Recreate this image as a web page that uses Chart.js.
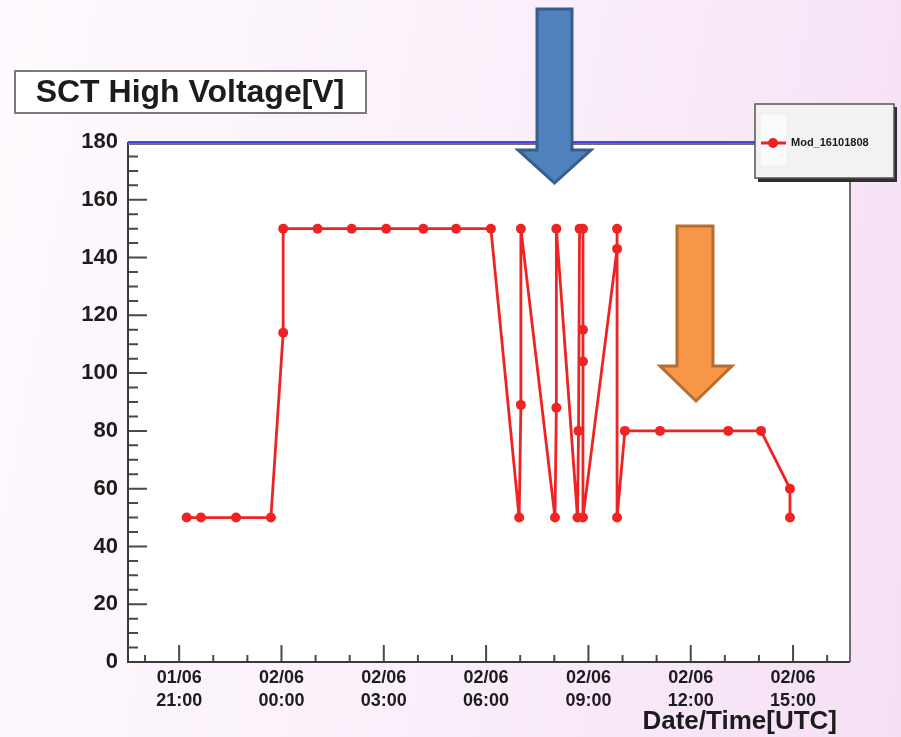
<!DOCTYPE html>
<html>
<head>
<meta charset="utf-8">
<title>SCT High Voltage</title>
<script src="https://cdn.jsdelivr.net/npm/chart.js"></script>
<style>
    html, body { margin: 0; padding: 0; }
    body {
        width: 901px; height: 737px; overflow: hidden;
        background: linear-gradient(100deg, #fefafe 0%, #fbf1fb 45%, #f7e6f7 80%, #f5e0f5 100%);
    }
    #graficoHV { display: block; }
</style>
</head>
<body>
<canvas id="graficoHV" width="901" height="737"></canvas>
<script>
// hours counted from 01/06 00:00 UTC
var tiempoHoras = [21.22, 21.64, 22.67, 23.69, 24.05, 24.05, 25.06, 26.06, 27.07, 28.16,
                   29.12, 30.14, 30.97, 31.02, 31.02, 32.02, 32.06, 32.06, 32.68, 32.71,
                   32.74, 32.84, 32.84, 32.84, 32.84, 33.84, 33.84, 33.84, 34.07, 35.10,
                   37.10, 38.06, 38.91, 38.91];
var voltaje = [50, 50, 50, 50, 114, 150, 150, 150, 150, 150,
               150, 150, 50, 89, 150, 50, 88, 150, 50, 80,
               150, 150, 115, 104, 50, 143, 150, 50, 80, 80,
               80, 80, 60, 50];
var serieNombre = 'Mod_16101808';
var tituloGrafico = 'SCT High Voltage[V]';
var tituloEjeX = 'Date/Time[UTC]';

var horasMayores = [21, 24, 27, 30, 33, 36, 39];
var horasMenores = [20, 22, 23, 25, 26, 28, 29, 31, 32, 34, 35, 37, 38, 40];
var rangoHoras = [19.5, 40.67];
var rangoVoltaje = [0, 180];

var puntos = tiempoHoras.map(function (t, i) { return { x: t, y: voltaje[i] }; });

var fuente = '"Liberation Sans", Arial, sans-serif';

function etiquetaHora(h) {
    var dia = h < 24 ? '01/06' : '02/06';
    var hh = String(h % 24).padStart(2, '0');
    return [dia, hh + ':00'];
}

function flecha(ctx, a, relleno, borde) {
    ctx.save();
    ctx.beginPath();
    ctx.moveTo(a.x0, a.top);
    ctx.lineTo(a.x1, a.top);
    ctx.lineTo(a.x1, a.cuello);
    ctx.lineTo(a.h1, a.cuello);
    ctx.lineTo(a.punta, a.fin);
    ctx.lineTo(a.h0, a.cuello);
    ctx.lineTo(a.x0, a.cuello);
    ctx.closePath();
    ctx.fillStyle = relleno;
    ctx.fill();
    ctx.lineWidth = 3;
    ctx.lineJoin = 'miter';
    ctx.strokeStyle = borde;
    ctx.stroke();
    ctx.restore();
}

// ROOT style frame: ticks pointing inside, title box, legend box, arrows
var marcoRoot = {
    id: 'marcoRoot',
    beforeDraw: function (chart) {
        var a = chart.chartArea, ctx = chart.ctx;
        ctx.save();
        ctx.fillStyle = '#ffffff';
        ctx.fillRect(a.left, a.top, a.right - a.left, a.bottom - a.top);
        ctx.restore();
    },
    beforeDatasetsDraw: function (chart) {
        var a = chart.chartArea, ctx = chart.ctx;
        var sx = chart.scales.x, sy = chart.scales.y;
        ctx.save();
        ctx.lineWidth = 2;
        ctx.strokeStyle = '#4a4a4a';
        ctx.beginPath();
        horasMayores.forEach(function (h) {
            var px = sx.getPixelForValue(h);
            ctx.moveTo(px, a.bottom); ctx.lineTo(px, a.bottom - 17);
        });
        horasMenores.forEach(function (h) {
            var px = sx.getPixelForValue(h);
            ctx.moveTo(px, a.bottom); ctx.lineTo(px, a.bottom - 7);
        });
        for (var v = 0; v <= 180; v += 5) {
            var py = sy.getPixelForValue(v);
            ctx.moveTo(a.left, py); ctx.lineTo(a.left + (v % 20 === 0 ? 19 : 10), py);
        }
        ctx.stroke();

        // frame
        ctx.strokeStyle = '#3a3a3a';
        ctx.beginPath();
        ctx.moveTo(a.left, a.top); ctx.lineTo(a.left, a.bottom); ctx.lineTo(a.right, a.bottom);
        ctx.stroke();
        ctx.strokeStyle = '#6e6e6e';
        ctx.beginPath();
        ctx.moveTo(a.right, a.bottom); ctx.lineTo(a.right, a.top);
        ctx.moveTo(a.left, a.top + 2); ctx.lineTo(a.right, a.top + 2);
        ctx.stroke();
        ctx.strokeStyle = '#4646e6';
        ctx.beginPath();
        ctx.moveTo(a.left, a.top); ctx.lineTo(a.right, a.top);
        ctx.stroke();
        ctx.restore();
    },
    afterDraw: function (chart) {
        var ctx = chart.ctx;
        ctx.save();

        // x axis title, right aligned under the last labels
        ctx.fillStyle = '#1c1c1c';
        ctx.font = 'bold 26px ' + fuente;
        ctx.textAlign = 'right';
        ctx.textBaseline = 'middle';
        ctx.fillText(tituloEjeX, 837, 722);

        // title box
        ctx.fillStyle = '#ffffff';
        ctx.fillRect(15, 71, 351, 42);
        ctx.lineWidth = 2;
        ctx.strokeStyle = '#7a7a7a';
        ctx.strokeRect(15, 71, 351, 42);
        ctx.fillStyle = '#1c1c1c';
        ctx.font = 'bold 32px ' + fuente;
        ctx.textAlign = 'center';
        ctx.fillText(tituloGrafico, 190, 93);

        // legend box
        ctx.fillStyle = '#2e2e2e';
        ctx.fillRect(758, 107, 139, 75);
        ctx.fillStyle = '#f2f2f2';
        ctx.fillRect(755, 104, 139, 74);
        ctx.lineWidth = 1.5;
        ctx.strokeStyle = '#555555';
        ctx.strokeRect(755, 104, 139, 74);
        ctx.fillStyle = '#fbfbfb';
        ctx.fillRect(761, 115, 25, 50);
        ctx.strokeStyle = '#ee2222';
        ctx.lineWidth = 3;
        ctx.beginPath();
        ctx.moveTo(761, 143); ctx.lineTo(786, 143);
        ctx.stroke();
        ctx.fillStyle = '#ee2222';
        ctx.beginPath();
        ctx.arc(773, 143, 5, 0, Math.PI * 2);
        ctx.fill();
        ctx.fillStyle = '#1a1a1a';
        ctx.font = 'bold 11px ' + fuente;
        ctx.textAlign = 'left';
        ctx.fillText(serieNombre, 791, 143);

        // arrows
        flecha(ctx, { x0: 537, x1: 572, top: 9, cuello: 150, h0: 518, h1: 591, punta: 554.5, fin: 183 },
               '#4f81bd', '#385d8a');
        flecha(ctx, { x0: 677, x1: 713, top: 226, cuello: 366, h0: 660, h1: 732, punta: 696, fin: 401 },
               '#f79646', '#b66d31');
        ctx.restore();
    }
};

var ctx = document.getElementById('graficoHV').getContext('2d');
var chart = new Chart(ctx, {
    type: 'line',
    data: {
        datasets: [{
            label: serieNombre,
            data: puntos,
            borderColor: '#ee2424',
            backgroundColor: '#ee2424',
            borderWidth: 2.8,
            pointRadius: 5,
            pointBorderWidth: 0,
            tension: 0,
            fill: false
        }]
    },
    options: {
        responsive: false,
        animation: false,
        layout: { padding: { left: 0, top: 142, right: 51, bottom: 0 } },
        plugins: {
            legend: { display: false },
            title: { display: false },
            tooltip: { enabled: false }
        },
        scales: {
            x: {
                type: 'linear',
                min: rangoHoras[0],
                max: rangoHoras[1],
                grid: { display: false, drawTicks: false },
                border: { display: false },
                afterBuildTicks: function (scale) {
                    scale.ticks = horasMayores.map(function (h) { return { value: h }; });
                },
                afterFit: function (scale) { scale.height = 75; },
                ticks: {
                    autoSkip: false,
                    maxRotation: 0,
                    padding: 5,
                    color: '#1c1c1c',
                    font: { family: fuente, size: 18, weight: 'bold', lineHeight: 1.25 },
                    callback: function (value) { return etiquetaHora(value); }
                }
            },
            y: {
                min: rangoVoltaje[0],
                max: rangoVoltaje[1],
                grid: { display: false, drawTicks: false },
                border: { display: false },
                afterFit: function (scale) { scale.width = 128; },
                ticks: {
                    stepSize: 20,
                    padding: 10,
                    color: '#1c1c1c',
                    font: { family: fuente, size: 22, weight: 'bold' }
                }
            }
        }
    },
    plugins: [marcoRoot]
});
</script>
</body>
</html>
